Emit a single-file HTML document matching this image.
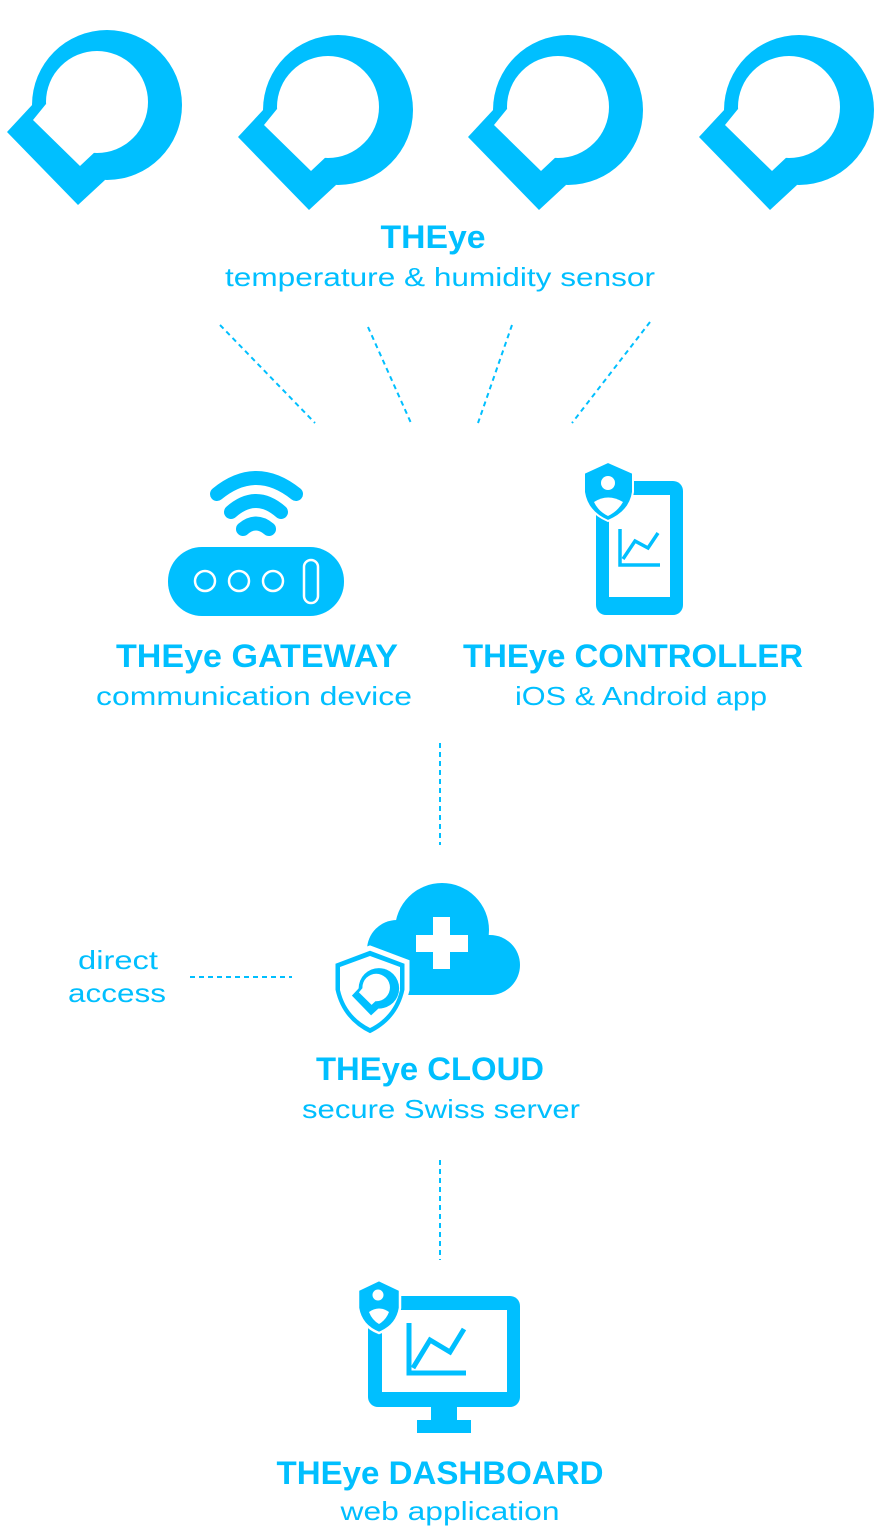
<!DOCTYPE html>
<html><head><meta charset="utf-8"><style>
html,body{margin:0;padding:0;background:#fff;}
svg{display:block;}
text{font-family:"Liberation Sans",Arial,sans-serif;fill:#00BFFF;}
.b{font-weight:bold;font-size:32px;}
.r{font-size:26px;}
.d{stroke:#00BFFF;stroke-width:2;stroke-dasharray:5 4;fill:none;}
</style></head><body>
<svg width="878" height="1530" viewBox="0 0 878 1530" xmlns="http://www.w3.org/2000/svg">
<defs>
<g id="sens">
<circle cx="107" cy="105" r="75" fill="#00BFFF"/>
<polygon points="33,104 7,132 78,205 105,180" fill="#00BFFF"/>
<circle cx="97" cy="102" r="51" fill="#fff"/>
<polygon points="46,104 33,120 80,166 97,150" fill="#fff"/>
</g>
</defs>
<use href="#sens"/>
<use href="#sens" transform="translate(231,5)"/>
<use href="#sens" transform="translate(461,5)"/>
<use href="#sens" transform="translate(692,5)"/>

<text class="b" x="433" y="248" text-anchor="middle" textLength="105" lengthAdjust="spacingAndGlyphs">THEye</text>
<text class="r" x="440" y="286" text-anchor="middle" textLength="430" lengthAdjust="spacingAndGlyphs">temperature &amp; humidity sensor</text>

<line class="d" x1="220" y1="325" x2="315" y2="423"/>
<line class="d" x1="368" y1="327" x2="411" y2="423"/>
<line class="d" x1="512" y1="325" x2="478" y2="423"/>
<line class="d" x1="650" y1="322" x2="572" y2="423"/>

<!-- gateway -->
<rect x="168" y="547" width="176" height="69" rx="34" fill="#00BFFF"/>
<circle cx="205" cy="581" r="10" fill="none" stroke="#fff" stroke-width="2.5"/>
<circle cx="239" cy="581" r="10" fill="none" stroke="#fff" stroke-width="2.5"/>
<circle cx="273" cy="581" r="10" fill="none" stroke="#fff" stroke-width="2.5"/>
<rect x="304" y="560" width="14" height="43" rx="7" fill="none" stroke="#fff" stroke-width="2.5"/>
<g fill="none" stroke="#00BFFF" stroke-width="14" stroke-linecap="round">
<path d="M217 494 Q256 462 296 494"/>
<path d="M231 512 Q256 490 281 512"/>
<path d="M243 529 Q256 518 269 529"/>
</g>

<!-- phone -->
<rect x="596" y="481" width="87" height="134" rx="10" fill="#00BFFF"/>
<rect x="609" y="495" width="61" height="102" fill="#fff"/>
<path d="M620 529 V565 H660" fill="none" stroke="#00BFFF" stroke-width="3.5"/>
<polyline points="623,559 635,541 648,548 658,533" fill="none" stroke="#00BFFF" stroke-width="3.5"/>
<path d="M584 473 L608 462 L633 473 V492 Q630 512 608 521 Q587 512 584 492 Z" fill="#00BFFF" stroke="#fff" stroke-width="2"/>
<circle cx="608" cy="483" r="7" fill="#fff"/>
<path d="M594 502 Q608 493 623 502 Q618 511 608 516 Q598 511 594 502 Z" fill="#fff"/>

<text class="b" x="257" y="667" text-anchor="middle" textLength="282" lengthAdjust="spacingAndGlyphs">THEye GATEWAY</text>
<text class="r" x="254" y="705" text-anchor="middle" textLength="316" lengthAdjust="spacingAndGlyphs">communication device</text>
<text class="b" x="633" y="667" text-anchor="middle" textLength="340" lengthAdjust="spacingAndGlyphs">THEye CONTROLLER</text>
<text class="r" x="641" y="705" text-anchor="middle" textLength="252" lengthAdjust="spacingAndGlyphs">iOS &amp; Android app</text>

<line class="d" x1="440" y1="743" x2="440" y2="845"/>

<!-- cloud -->
<g fill="#00BFFF">
<circle cx="442" cy="930" r="47"/>
<circle cx="490" cy="965" r="30"/>
<circle cx="397" cy="950" r="30"/>
<rect x="397" y="935" width="93" height="60"/>
</g>
<rect x="433" y="917" width="17" height="52" fill="#fff"/>
<rect x="416" y="935" width="52" height="17" fill="#fff"/>
<path d="M333 962 L370 948 L407 962 V990 Q400 1022 370 1036 Q340 1022 333 990 Z" fill="#00BFFF" stroke="#fff" stroke-width="5"/>
<path d="M340 967 L370 956 L400 967 V990 Q394 1016 370 1028 Q346 1016 340 990 Z" fill="#fff"/>
<g transform="translate(350,960) scale(0.27)"><use href="#sens"/></g>

<text class="r" x="118" y="969" text-anchor="middle" textLength="80" lengthAdjust="spacingAndGlyphs">direct</text>
<text class="r" x="117" y="1002" text-anchor="middle" textLength="98" lengthAdjust="spacingAndGlyphs">access</text>
<line class="d" x1="190" y1="977" x2="292" y2="977"/>

<text class="b" x="430" y="1080" text-anchor="middle" textLength="228" lengthAdjust="spacingAndGlyphs">THEye CLOUD</text>
<text class="r" x="441" y="1118" text-anchor="middle" textLength="278" lengthAdjust="spacingAndGlyphs">secure Swiss server</text>

<line class="d" x1="440" y1="1160" x2="440" y2="1260"/>

<!-- dashboard -->
<rect x="368" y="1296" width="152" height="111" rx="10" fill="#00BFFF"/>
<rect x="382" y="1310" width="125" height="82" fill="#fff"/>
<rect x="431" y="1406" width="26" height="15" fill="#00BFFF"/>
<rect x="417" y="1420" width="54" height="13" fill="#00BFFF"/>
<path d="M409 1323 V1373 H466" fill="none" stroke="#00BFFF" stroke-width="5"/>
<polyline points="413,1368 430,1340 450,1352 464,1329" fill="none" stroke="#00BFFF" stroke-width="5"/>
<path d="M358 1290 L379 1280 L400 1290 V1308 Q397 1326 379 1333 Q361 1326 358 1308 Z" fill="#00BFFF" stroke="#fff" stroke-width="2.5"/>
<circle cx="378" cy="1295" r="5.5" fill="#fff"/>
<path d="M369 1312 Q379 1305 389 1312 Q386 1320 379 1324 Q372 1320 369 1312 Z" fill="#fff"/>

<text class="b" x="440" y="1484" text-anchor="middle" textLength="327" lengthAdjust="spacingAndGlyphs">THEye DASHBOARD</text>
<text class="r" x="450" y="1520" text-anchor="middle" textLength="219" lengthAdjust="spacingAndGlyphs">web application</text>
</svg>
</body></html>
